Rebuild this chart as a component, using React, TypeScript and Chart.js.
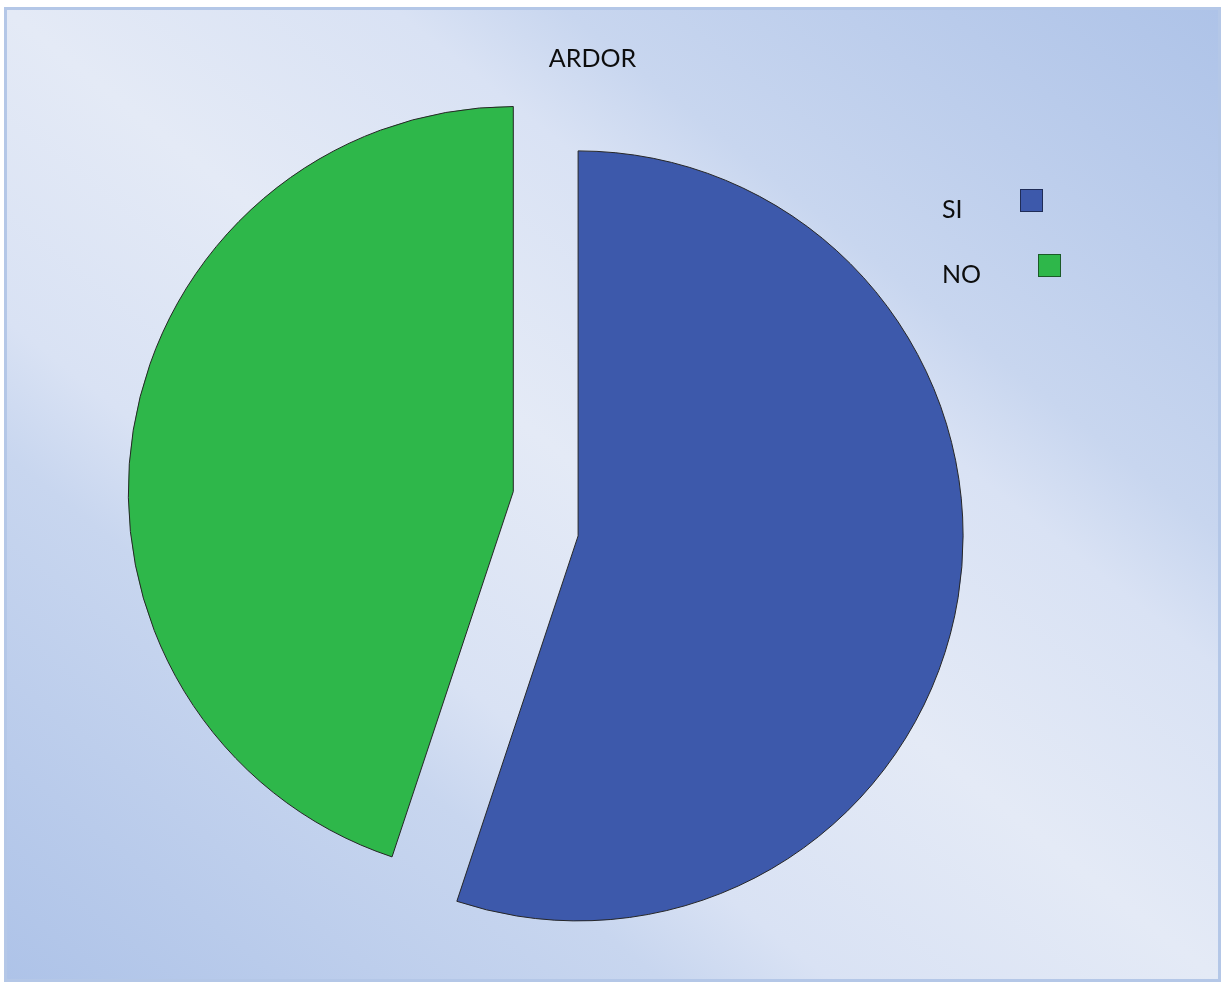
import React, { useEffect, useRef } from "react";
import { Chart, registerables } from "chart.js";

Chart.register(...registerables);

// ---- data ----
const TITLE = "ARDOR";
const CATEGORIES = ["SI", "NO"];
const VALUES = [55.1, 44.9];
const COLORS = ["#3d59ab", "#2eb74a"];
const BOX_BORDERS = ["#1f2c57", "#1b5a28"];

const FONT_FAMILY = "Lato, 'Open Sans', sans-serif";

// Draws each slice displaced by its own explode vector (Excel-style exploded pie)
const explodePlugin = {
  id: "explodeSlices",
  beforeDatasetsDraw(chart: any, _args: any, opts: any) {
    const ctx = chart.ctx;
    const meta = chart.getDatasetMeta(0);
    meta.data.forEach((arc: any, i: number) => {
      ctx.save();
      ctx.translate(opts.dx[i] || 0, opts.dy[i] || 0);
      arc.draw(ctx);
      ctx.restore();
    });
    return false;
  },
};

// Title and legend in the Excel layout (label text followed by its colour box)
const decorPlugin = {
  id: "excelDecor",
  afterDraw(chart: any, _args: any, opts: any) {
    const ctx = chart.ctx;
    ctx.save();
    ctx.fillStyle = "#0d0d0d";
    ctx.font = `${opts.fontSize}px ${FONT_FAMILY}`;
    ctx.textBaseline = "alphabetic";
    ctx.textAlign = "center";
    ctx.fillText(opts.title, opts.titleX, opts.titleY);
    ctx.textAlign = "left";
    const labels: string[] = chart.data.labels;
    const colors: string[] = chart.data.datasets[0].backgroundColor;
    labels.forEach((lab, i) => {
      const y = opts.legendY[i];
      ctx.fillStyle = "#0d0d0d";
      ctx.fillText(lab, opts.legendX, y);
      const w = ctx.measureText(lab).width;
      const bx = Math.round(opts.legendX + w + opts.boxGap) + 0.5;
      const by = Math.round(y - opts.boxRise) + 0.5;
      ctx.fillStyle = colors[i];
      ctx.fillRect(bx, by, opts.boxSize, opts.boxSize);
      ctx.strokeStyle = opts.boxBorders[i];
      ctx.lineWidth = 1;
      ctx.strokeRect(bx, by, opts.boxSize, opts.boxSize);
    });
    ctx.restore();
  },
};

export default function App() {
  const ref = useRef<HTMLCanvasElement | null>(null);

  useEffect(() => {
    if (!ref.current) return;
    const chart = new Chart(ref.current, {
      type: "pie",
      data: {
        labels: CATEGORIES,
        datasets: [
          {
            data: VALUES,
            backgroundColor: COLORS,
            borderColor: "#262626",
            borderWidth: 1,
          },
        ],
      },
      options: {
        responsive: false,
        animation: false,
        layout: { padding: { left: 160, top: 128, right: 290, bottom: 84 } },
        plugins: {
          legend: { display: false },
          title: { display: false },
          tooltip: { enabled: false },
          explodeSlices: { dx: [32.6, -32.2], dy: [22.4, -22] },
          excelDecor: {
            title: TITLE,
            titleX: 592.5,
            titleY: 67.3,
            fontSize: 25,
            legendX: 942,
            legendY: [217.7, 282.6],
            boxGap: 57,
            boxRise: 28.5,
            boxSize: 22,
            boxBorders: BOX_BORDERS,
          },
        } as any,
      },
      plugins: [explodePlugin, decorPlugin],
    });
    return () => chart.destroy();
  }, []);

  return (
    <>
      <div
        style={{
          position: "absolute",
          left: 4,
          top: 7,
          width: 1217,
          height: 975,
          boxSizing: "border-box",
          border: "3px solid #b4c7e7",
          background:
            "linear-gradient(to top right, #aec3e8 0%, #c8d6ef 27%, #d9e2f4 34%, #e4eaf6 50%, #d9e2f4 66%, #c8d6ef 73%, #aec3e8 100%)",
        }}
      />
      <canvas
        ref={ref}
        width={1221}
        height={983}
        style={{ position: "absolute", left: 0, top: 0, display: "block" }}
      />
    </>
  );
}
